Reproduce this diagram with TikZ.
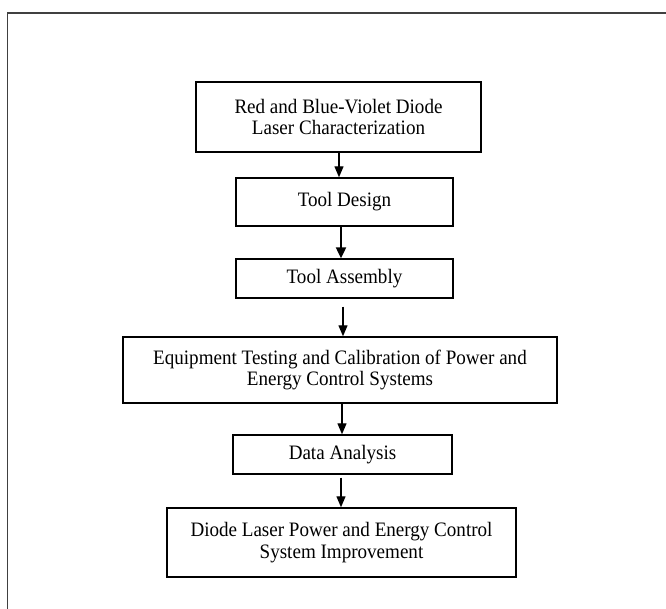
\documentclass[tikz,border=0pt]{standalone}
\usepackage{fontspec}
\setmainfont{Liberation Serif}[FakeStretch=0.93]
\usetikzlibrary{arrows.meta}
\begin{document}
\begin{tikzpicture}[x=1pt,y=-1pt,
  box/.style={draw, line width=1.4pt, inner sep=0pt, align=center,
    font=\fontsize{20.5}{21.5}\selectfont},
  arr/.style={line width=1.3pt, -{Triangle[length=11pt,width=9pt]}},
  thickarr/.style={line width=2.2pt, -{Triangle[length=11pt,width=10pt]}}]
\useasboundingbox (0,0) rectangle (666,609);
\fill[white] (0,0) rectangle (666,609);
\draw[line width=1.6pt, black!75] (7.5,609) -- (7.5,13) -- (666,13);

\node[box, minimum width=285pt, minimum height=70pt] (b1) at (338.5,117)
  {Red and Blue-Violet Diode\\Laser Characterization};
\node[box, minimum width=217pt, minimum height=48pt] (b2) at (344.5,202) {Tool Design};
\node[box, minimum width=217pt, minimum height=39pt] (b3) at (344.5,278.5) {Tool Assembly};
\node[box, minimum width=434pt, minimum height=66pt] (b4) at (340,370)
  {Equipment Testing and Calibration of Power and\\Energy Control Systems};
\node[box, minimum width=219pt, minimum height=39pt] (b5) at (342.5,454.5) {Data Analysis};
\node[box, minimum width=349pt, minimum height=69pt] (b6) at (341.5,542.5)
  {Diode Laser Power and Energy Control\\System Improvement};

\draw[arr] ([xshift=0.5pt]b1.south) -- ([xshift=0.5pt]b1.south |- b2.north);
\draw[thickarr] ([xshift=-3.5pt]b2.south) -- ([xshift=-3.5pt]b2.south |- b3.north);
\draw[arr, shorten <=8pt] ([xshift=-1.5pt]b3.south) -- ([xshift=-1.5pt]b3.south |- b4.north);
\draw[arr] ([xshift=2pt]b4.south) -- ([xshift=2pt]b4.south |- b5.north);
\draw[arr, shorten <=3pt] ([xshift=-1.5pt]b5.south) -- ([xshift=-1.5pt]b5.south |- b6.north);
\end{tikzpicture}
\end{document}
